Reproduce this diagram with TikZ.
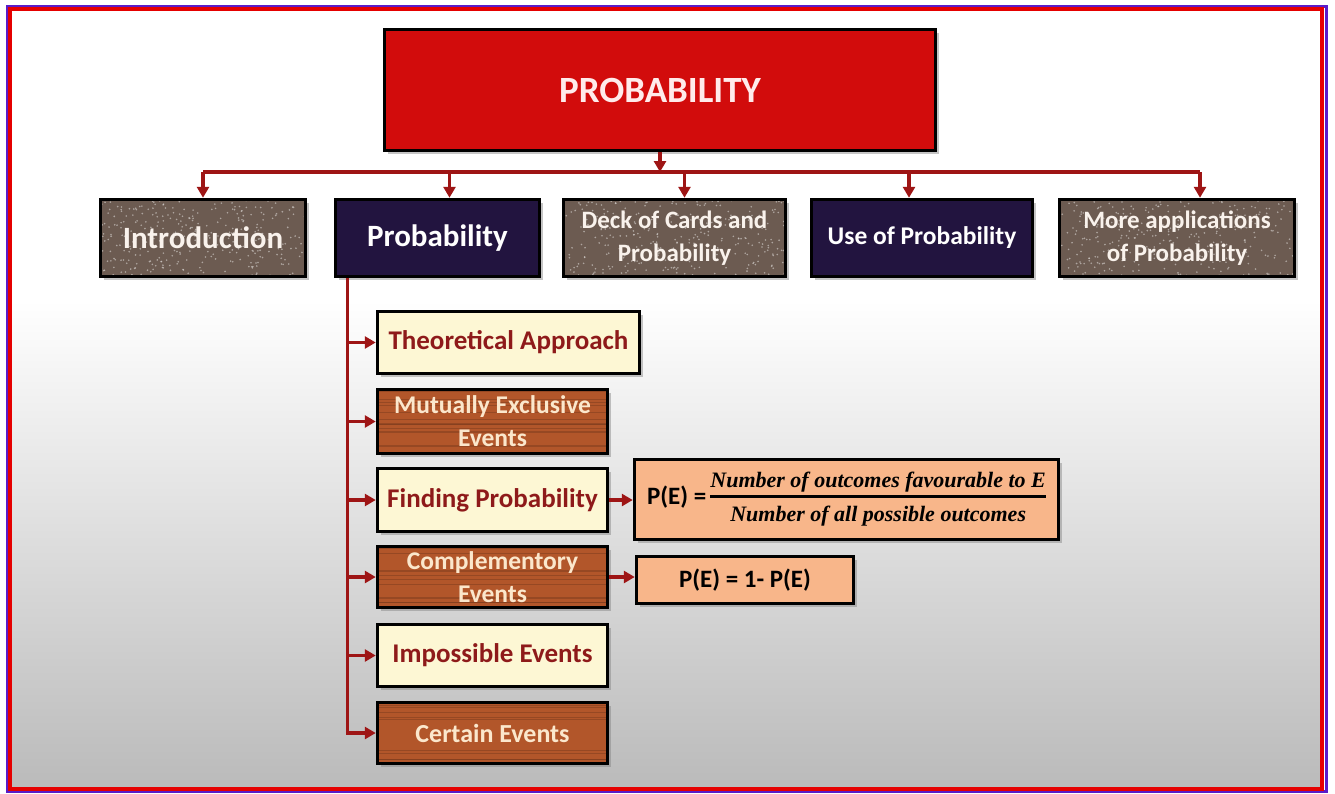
\documentclass[tikz,border=0pt]{standalone}
\usepackage{fontspec}
\setmainfont{Carlito}
\newfontfamily\formfont{Liberation Serif}
\usetikzlibrary{shadows,arrows.meta,calc}

\definecolor{topred}{HTML}{D20C0C}
\definecolor{navy}{HTML}{22143F}
\definecolor{granite}{HTML}{6C5B51}
\definecolor{cream}{HTML}{FDF7D4}
\definecolor{wood}{HTML}{B2562A}
\definecolor{woodtext}{HTML}{FBE7CC}
\definecolor{darkred}{HTML}{8E1A1A}
\definecolor{peach}{HTML}{F8B68A}
\definecolor{linkred}{HTML}{9E1515}
\definecolor{frameblue}{HTML}{5A1CC8}

\tikzset{
  box/.style={draw=black, line width=3.5pt, inner sep=2pt, align=center,
    drop shadow={shadow xshift=3pt, shadow yshift=-3pt, opacity=.45}},
  mainbox/.style={box, fill=granite, text=white!90!brown,
    path picture={\foreach \i in {1,...,320}
      \fill[white!75!granite, opacity=.6]
        ($(path picture bounding box.north west)!rnd!(path picture bounding box.north east)+(0,rnd*80)$) circle (0.9pt);}},
  darkbox/.style={box, fill=navy, text=white},
  creambox/.style={box, fill=cream, text=darkred, font=\fontsize{27}{30}\selectfont\bfseries},
  woodbox/.style={box, fill=wood, text=woodtext, font=\fontsize{25.5}{33}\selectfont\bfseries,
    path picture={\foreach \i in {1,...,14}
      \draw[wood!65!black, opacity=.45, line width=1pt]
        ($(path picture bounding box.north west)+(0,rnd*66)$) -- ++(240,0);}},
  formbox/.style={box, fill=peach, text=black},
  link/.style={draw=linkred, line width=3.2pt, -{Triangle[length=11pt,width=12pt]}},
  bus/.style={draw=linkred, line width=3.2pt}
}

\begin{document}
\begin{tikzpicture}[x=1pt,y=-1pt]
\useasboundingbox (0,0) rectangle (1335,793);

% background and frame
\fill[white] (0,0) rectangle (1335,793);
\shade[top color=white, bottom color=black!27] (10,300) rectangle (1322,789);
\draw[frameblue, line width=3pt] (7.5,6.5) rectangle (1326,791.5);
\draw[red!90!black, line width=4pt] (10,9) rectangle (1321.5,788.5);

% top
\node[box, fill=topred, text=white!92!red, minimum width=551pt, minimum height=121pt,
  font=\fontsize{37}{40}\selectfont\bfseries] (top) at (660,90) {PROBABILITY};

% second row
\node[mainbox, minimum width=205pt, minimum height=77pt, font=\fontsize{31}{34}\selectfont\bfseries]
  (intro) at (203,238) {Introduction};
\node[darkbox, minimum width=204pt, minimum height=77pt, font=\fontsize{31}{34}\selectfont\bfseries]
  (prob) at (437.5,238) {Probability};
\node[mainbox, minimum width=222pt, minimum height=77pt, font=\fontsize{25}{33}\selectfont\bfseries]
  (deck) at (674.5,238) {Deck of Cards and\\Probability};
\node[darkbox, minimum width=221pt, minimum height=77pt, font=\fontsize{25.5}{28}\selectfont\bfseries]
  (use) at (922,238) {Use of Probability};
\node[mainbox, minimum width=235pt, minimum height=77pt, font=\fontsize{25}{33}\selectfont\bfseries]
  (more) at (1177,238) {More applications\\of Probability};

% sub boxes
\node[creambox, minimum width=262pt, minimum height=62pt] (theo) at (508.5,342.5) {Theoretical Approach};
\node[woodbox, minimum width=230pt, minimum height=64pt] (mutual) at (492.5,421.5) {Mutually Exclusive\\Events};
\node[creambox, minimum width=230pt, minimum height=63pt] (find) at (492.5,500) {Finding Probability};
\node[woodbox, minimum width=230pt, minimum height=61pt] (compl) at (492.5,577) {Complementory\\Events};
\node[creambox, minimum width=230pt, minimum height=62pt] (imposs) at (492.5,655.5) {Impossible Events};
\node[woodbox, minimum width=230pt, minimum height=61pt, font=\fontsize{26}{28}\selectfont\bfseries]
  (cert) at (492.5,733) {Certain Events};

% formulas
\node[formbox, minimum width=424pt, minimum height=80pt] (form1) at (846.5,499.5)
  {\fontsize{25}{28}\selectfont\bfseries P(E) =\,%
   {\formfont\bfseries\itshape\fontsize{22}{25}\selectfont\setlength\arrayrulewidth{3pt}%
   \begin{tabular}{@{}c@{}}Number of outcomes favourable to E\\\hline
   \rule{0pt}{24pt}Number of all possible outcomes\end{tabular}}};
\node[formbox, minimum width=217pt, minimum height=47pt, font=\fontsize{25}{28}\selectfont\bfseries]
  (form2) at (745,580) {P(E) = 1- P(E)};

% connectors
\coordinate (busline) at (0,172);
\draw[link] (top.south) -- (top.south |- busline);
\draw[bus] (intro.north |- busline) -- ([xshift=23pt]more.north |- busline);
\draw[link] (intro.north |- busline) -- (intro.north);
\draw[link] ([xshift=12pt]prob.north |- busline) -- ([xshift=12pt]prob.north);
\draw[link] ([xshift=10pt]deck.north |- busline) -- ([xshift=10pt]deck.north);
\draw[link] ([xshift=-13pt]use.north |- busline) -- ([xshift=-13pt]use.north);
\draw[link] ([xshift=23pt]more.north |- busline) -- ([xshift=23pt]more.north);

\coordinate (spine) at ([xshift=14pt]prob.south west);
\draw[link] (spine) |- (cert.west);
\foreach \n in {theo,mutual,find,compl,imposs}
  \draw[link] (spine |- \n.west) -- (\n.west);
\draw[link] (find.east) -- (form1.west |- find.east);
\draw[link] (compl.east) -- (form2.west |- compl.east);
\end{tikzpicture}
\end{document}
